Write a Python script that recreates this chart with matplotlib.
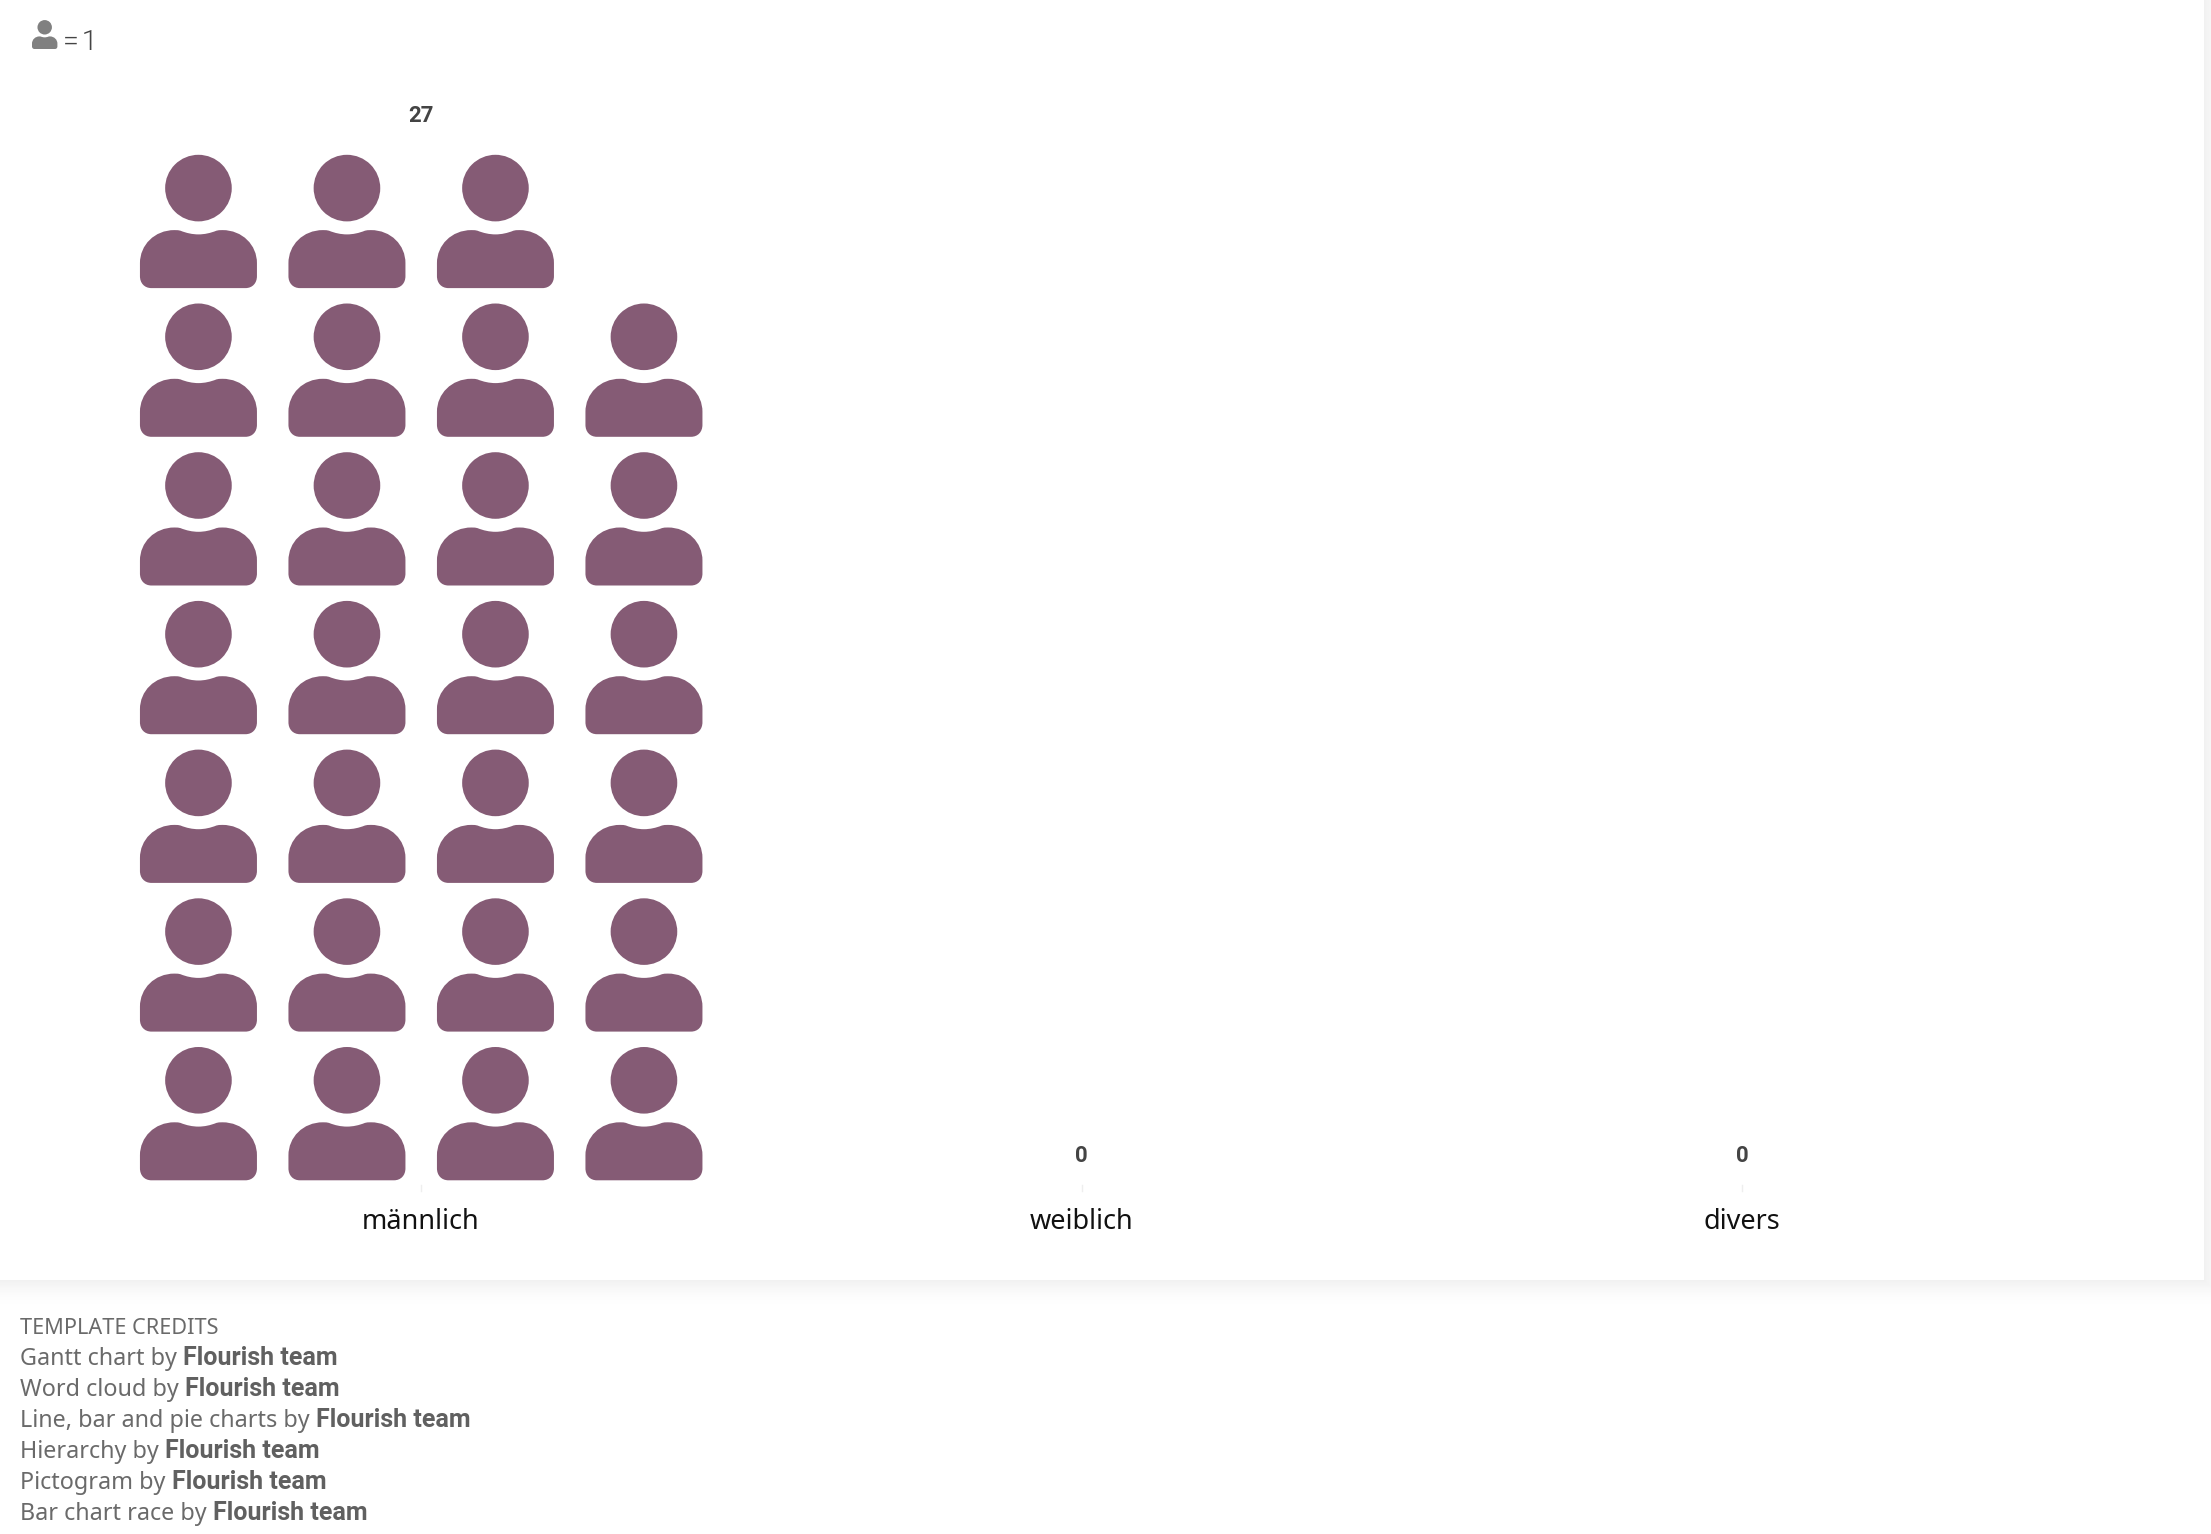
import matplotlib
matplotlib.use("Agg")
import matplotlib.pyplot as plt
from matplotlib.patches import PathPatch, Rectangle
from matplotlib.path import Path
from matplotlib.transforms import Affine2D

# Chart data
categories = ["männlich", "weiblich", "divers"]
counts = [27, 0, 0]
legend_text = "=\u200a1"
credits_title = "TEMPLATE CREDITS"
credit_lines = ["Gantt chart by", "Word cloud by", "Line, bar and pie charts by",
                "Hierarchy by", "Pictogram by", "Bar chart race by"]
credit_author = "Flourish team"

W, H = 2211, 1534
PURPLE = "#855b75"

fig = plt.figure(figsize=(W / 100, H / 100), dpi=100, facecolor="white")
ax = fig.add_axes([0, 0, 1, 1])
ax.set_xlim(0, W)
ax.set_ylim(H, 0)
ax.axis("off")

# Card with soft shadow behind it
panel_w, panel_h = 2204, 1280
for i in range(30, 0, -1):
    grey = 1 - 0.06 * (1 - i / 30) ** 2
    ax.add_patch(Rectangle((-40, -40), panel_w + 40 + i, panel_h + 40 + i, color=str(grey), lw=0))
ax.add_patch(Rectangle((-40, -40), panel_w + 40, panel_h + 40, color="white", lw=0))


def person_path():
    M, L, C, Z = Path.MOVETO, Path.LINETO, Path.CURVE4, Path.CLOSEPOLY
    body = [
        ((-58.5, 88), M),
        ((-58.5, 75), L),
        ((-58.5, 57), C), ((-44, 42), C), ((-24, 42), C),
        ((-21, 42), C), ((-20, 42.2), C), ((-18, 42.6), C),
        ((-12, 45), C), ((-6, 46.3), C), ((0, 46.3), C),
        ((6, 46.3), C), ((12, 45), C), ((18, 42.6), C),
        ((20, 42.2), C), ((21, 42), C), ((24, 42), C),
        ((44, 42), C), ((58.5, 57), C), ((58.5, 75), C),
        ((58.5, 88), L),
        ((58.5, 95), C), ((54, 100), C), ((47, 100), C),
        ((-47, 100), L),
        ((-54, 100), C), ((-58.5, 95), C), ((-58.5, 88), C),
        ((-58.5, 88), Z),
    ]
    body_path = Path([b[0] for b in body], [b[1] for b in body])
    head = Path.circle((0, 0), 33.3)
    return Path.make_compound_path(head, body_path)


icon = person_path()


def draw_person(x, y, scale, color):
    tr = Affine2D().scale(scale).translate(x, y) + ax.transData
    ax.add_patch(PathPatch(icon, transform=tr, facecolor=color, edgecolor="none", lw=0))


# Legend
draw_person(44.7, 27.3, 0.217, "#808080")
ax.text(63, 50, legend_text, fontsize=20.5, family=["Roboto", "DejaVu Sans"], weight=300,
        color="#444444", va="baseline", ha="left")

# Pictogram columns
group_x = [420.5, 1081.5, 1742]
col_step = 148.5
row_step = 148.7
n_cols = 4
n_rows = 7
bottom_head_y = 1080.3

for gx, n, name in zip(group_x, counts, categories):
    for k in range(n):
        # fill column by column from the left, bottom up
        col = k // n_rows
        row = k % n_rows
        x = gx + (col - (n_cols - 1) / 2) * col_step + 0.7
        y = bottom_head_y - row * row_step
        draw_person(x, y, 1, PURPLE)
    label_y = 116 if n else 1156.5
    ax.text(gx, label_y, str(n), fontsize=16, family="Roboto", weight="bold", color="#444444",
            ha="center", va="center")
    ax.plot([gx, gx], [1185, 1191], color="#eeeeee", lw=1)
    ax.text(gx, 1222, name, fontsize=19.5, family="Noto Sans", color="#111111", ha="center", va="center")

# Credits under the card
ax.text(19.5, 1328, credits_title, fontsize=15.6, family="Noto Sans", color="#6a6a6a",
        va="center", ha="left")
renderer = fig.canvas.get_renderer()
for i, line in enumerate(credit_lines):
    y = 1365 + i * 31
    t = ax.text(19.5, y, line, fontsize=16.8, family="Noto Sans", color="#6a6a6a",
                va="baseline", ha="left")
    x_end = ax.transData.inverted().transform(t.get_window_extent(renderer).get_points())[1][0]
    ax.text(x_end + 7, y, credit_author, fontsize=18, family="Roboto", color="#606060",
            va="baseline", ha="left", weight="bold")

fig.savefig("out.png", dpi=100)
